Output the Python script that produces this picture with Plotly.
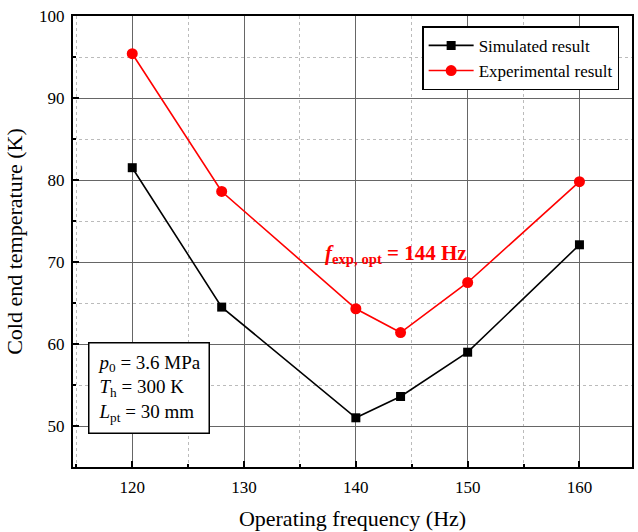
import plotly.graph_objects as go

freq = [120, 128, 140, 144, 150, 160]
simulated = [81.5, 64.5, 51.0, 53.6, 59.0, 72.1]
experimental = [95.4, 78.6, 64.3, 61.4, 67.5, 79.8]

FONT = "Times New Roman, Liberation Serif, Times, serif"

fig = go.Figure()
fig.add_trace(go.Scatter(x=freq, y=simulated, mode="lines+markers", name="Simulated result",
                         line=dict(color="black", width=1.6),
                         marker=dict(symbol="square", size=9, color="black")))
fig.add_trace(go.Scatter(x=freq, y=experimental, mode="lines+markers", name="Experimental result",
                         line=dict(color="#ff0000", width=1.6),
                         marker=dict(symbol="circle", size=11, color="#ff0000")))

axis_common = dict(showline=True, linecolor="black", linewidth=2, mirror=True,
                   ticks="inside", ticklen=6, tickwidth=1.5, tickcolor="black",
                   showgrid=True, gridcolor="#666666", gridwidth=1, zeroline=False,
                   tickfont=dict(family=FONT, size=17, color="black"))

fig.update_xaxes(range=[114.7, 164.7], dtick=10, tick0=120, ticklabelstandoff=4,
                 minor=dict(dtick=5, ticks="inside", ticklen=3, tickcolor="black",
                            showgrid=True, gridcolor="#bbbbbb", griddash="dot", gridwidth=1),
                 title=dict(text="Operating frequency (Hz)", font=dict(family=FONT, size=22, color="black"), standoff=14),
                 **axis_common)
fig.update_yaxes(range=[45, 100], dtick=10, tick0=50, ticklabelstandoff=3,
                 minor=dict(dtick=5, ticks="inside", ticklen=3, tickcolor="black",
                            showgrid=True, gridcolor="#bbbbbb", griddash="dot", gridwidth=1),
                 title=dict(text="Cold end temperature (K)", font=dict(family=FONT, size=22, color="black"), standoff=10),
                 **axis_common)

fig.add_annotation(x=143.6, y=71, xref="x", yref="y", showarrow=False,
                   text="<b><i>f</i><sub>exp, opt</sub> = 144 Hz</b>",
                   font=dict(family=FONT, size=21, color="#ff0000"))

fig.add_annotation(x=0.027, y=0.277, xref="paper", yref="paper", xanchor="left", yanchor="top",
                   showarrow=False, align="left",
                   text="<i>p</i><sub>0</sub> = 3.6 MPa<br><i>T</i><sub>h</sub> = 300 K<br><i>L</i><sub>pt</sub> = 30 mm",
                   font=dict(family=FONT, size=19, color="black"),
                   bgcolor="white", bordercolor="black", borderwidth=1.5, borderpad=8)

fig.update_layout(
    width=638, height=532,
    margin=dict(l=73, r=4, t=16, b=65),
    paper_bgcolor="white", plot_bgcolor="white",
    font=dict(family=FONT, color="black"),
    legend=dict(x=0.977, y=0.977, xanchor="right", yanchor="top",
                bgcolor="white", bordercolor="black", borderwidth=1.5,
                font=dict(family=FONT, size=17, color="black"), itemwidth=45),
    showlegend=True,
)

fig.write_html("out.html")
